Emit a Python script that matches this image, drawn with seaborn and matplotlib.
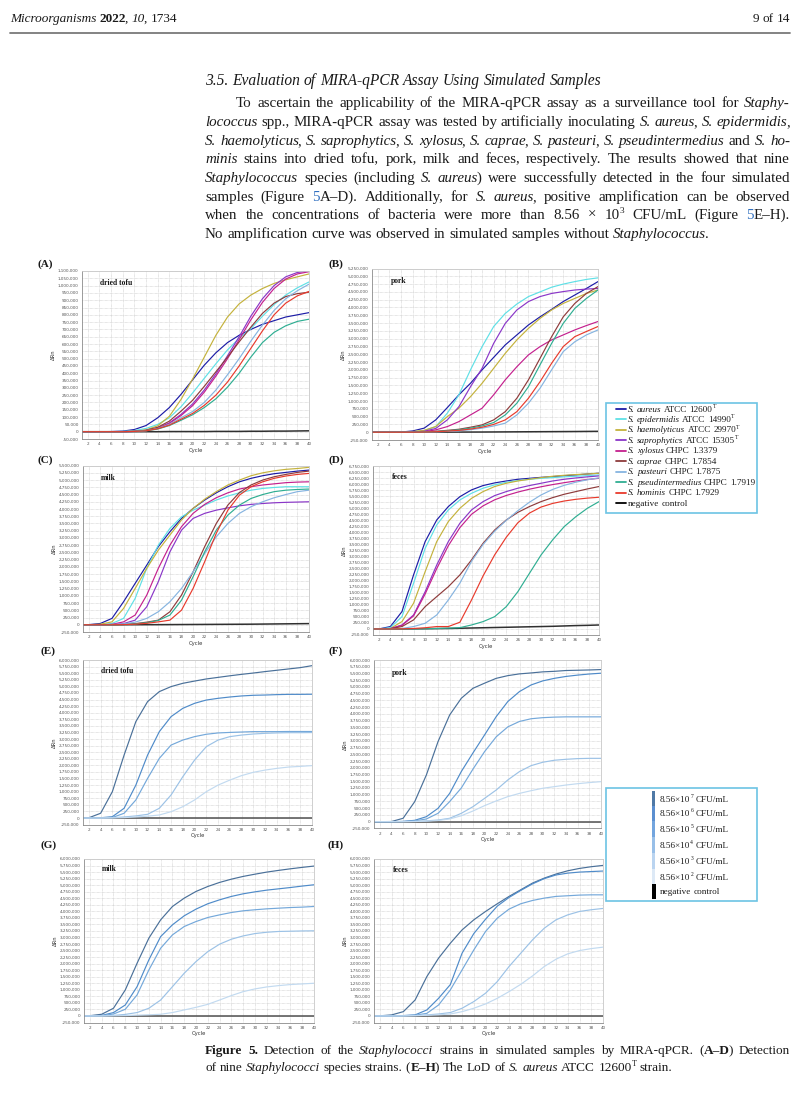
import numpy as np
import pandas as pd
import matplotlib
matplotlib.use("Agg")
import matplotlib.pyplot as plt
import seaborn as sns
from matplotlib.patches import Rectangle
from matplotlib.lines import Line2D
from matplotlib.transforms import IdentityTransform

# ---------------- data (RFU in thousands) ----------------
CYCLES = [1, 2, 4, 6, 8, 10, 12, 14, 16, 18, 20, 22, 24, 26, 28, 30, 32, 34, 36, 38, 40]
X_TICKS = list(range(2, 41, 2))

STRAINS = ["negative control", "S. aureus", "S. epidermidis", "S. haemolyticus", "S. saprophytics",
           "S. xylosus", "S. caprae", "S. pasteuri", "S. pseudintermedius", "S. hominis"]
STRAIN_COLORS = ["#303030", "#1c1ca6", "#5fe0e6", "#c4b23c", "#8a36c8",
                 "#c4208e", "#8e3b3b", "#86b4e0", "#2fae92", "#e83a2c"]
LEGEND1_TEXT = ["_S. aureus_ ATCC 12600^T^", "_S. epidermidis_ ATCC 14990^T^",
                "_S. haemolyticus_ ATCC 29970^T^", "_S. saprophytics_ ATCC 15305^T^",
                "_S. xylosus_ CHPC 1.3379", "_S. caprae_ CHPC 1.7854", "_S. pasteuri_ CHPC 1.7875",
                "_S. pseudintermedius_ CHPC 1.7919", "_S. hominis_ CHPC 1.7929", "negative control"]

A_NEG = [0, 0, 0, 0, 0, 0, 0, 0, 1, 1, 1, 1, 2, 2, 2, 3, 3, 4, 4, 5, 6]
A_AUR = [0, 0, 0, 1, 4, 15, 42, 95, 165, 255, 355, 455, 540, 610, 660, 700, 735, 760, 785, 800, 815]
A_EPI = [0, 0, 0, 0, 2, 8, 22, 50, 95, 170, 265, 365, 465, 560, 640, 705, 790, 870, 935, 985, 1025]
A_HAE = [0, 0, 0, 0, 0, 3, 12, 40, 105, 220, 360, 510, 660, 785, 875, 935, 980, 1015, 1040, 1060, 1080]
A_SAP = [0, 0, 0, 0, 0, 2, 8, 25, 60, 118, 190, 285, 395, 520, 650, 790, 910, 1000, 1060, 1090, 1100]
A_XYL = [0, 0, 0, 0, 0, 2, 8, 24, 56, 110, 178, 270, 380, 500, 630, 765, 885, 980, 1045, 1080, 1095]
A_CAP = [0, 0, 0, 0, 0, 3, 10, 30, 72, 140, 215, 310, 410, 510, 615, 715, 810, 880, 925, 945, 955]
A_PAS = [0, 0, 0, 0, 0, 2, 7, 22, 50, 95, 138, 200, 285, 390, 500, 620, 730, 830, 910, 965, 1010]
A_PSE = [0, 0, 0, 0, 0, 2, 6, 18, 42, 78, 116, 165, 225, 305, 400, 510, 610, 680, 725, 755, 770]
A_HOM = [0, 0, 0, 0, 0, 2, 6, 20, 45, 85, 125, 180, 250, 340, 450, 570, 690, 800, 880, 930, 960]

B_NEG = [0, 0, 0, 0, 0, 1, 2, 3, 4, 5, 6, 8, 10, 12, 14, 16, 18, 20, 22, 25, 28]
B_AUR = [0, 0, 0, 5, 40, 130, 395, 790, 1200, 1570, 2000, 2400, 2800, 3120, 3440, 3700, 3940, 4190, 4400, 4610, 4830]
B_EPI = [0, 0, 0, 2, 15, 50, 180, 610, 1200, 2000, 2745, 3390, 3810, 4110, 4350, 4500, 4650, 4750, 4830, 4900, 4950]
B_HAE = [0, 0, 0, 2, 20, 60, 180, 500, 770, 1140, 1570, 2050, 2530, 2960, 3330, 3650, 3920, 4130, 4290, 4450, 4560]
B_SAP = [0, 0, 0, 0, 5, 30, 120, 395, 820, 1460, 2050, 2850, 3490, 3920, 4190, 4350, 4450, 4510, 4560, 4590, 4610]
B_XYL = [0, 0, 0, 0, 2, 15, 75, 180, 340, 555, 770, 1200, 1680, 2100, 2480, 2745, 2960, 3120, 3280, 3420, 3550]
B_CAP = [0, 0, 0, 0, 0, 10, 30, 60, 95, 160, 235, 395, 660, 1090, 1680, 2370, 3065, 3700, 4130, 4450, 4670]
B_PAS = [0, 0, 0, 0, 0, 3, 10, 25, 45, 80, 130, 200, 290, 555, 930, 1410, 2000, 2585, 2900, 3120, 3280]
B_PSE = [0, 0, 0, 0, 0, 5, 20, 45, 80, 130, 200, 310, 555, 930, 1460, 2160, 2850, 3490, 3970, 4290, 4560]
B_HOM = [0, 0, 0, 0, 0, 5, 15, 35, 60, 100, 160, 250, 395, 660, 1090, 1620, 2210, 2745, 3065, 3230, 3390]

C_NEG = [0, 0, 0, 0, 1, 2, 3, 4, 6, 8, 10, 12, 14, 16, 18, 20, 24, 28, 32, 36, 40]
C_AUR = [0, 5, 45, 220, 795, 1430, 2060, 2700, 3215, 3675, 4020, 4310, 4560, 4770, 4940, 5060, 5150, 5220, 5265, 5310, 5345]
C_EPI = [0, 0, 5, 45, 220, 910, 1950, 2750, 3330, 3730, 3960, 4135, 4310, 4450, 4560, 4650, 4710, 4745, 4770, 4770, 4770]
C_HAE = [0, 0, 20, 100, 565, 1255, 1950, 2580, 3100, 3620, 4020, 4340, 4600, 4830, 5000, 5150, 5250, 5320, 5370, 5400, 5440]
C_SAP = [0, 0, 0, 5, 40, 160, 620, 1490, 2520, 3270, 3675, 3850, 3960, 4040, 4110, 4160, 4190, 4215, 4230, 4240, 4250]
C_XYL = [0, 0, 0, 15, 100, 335, 1025, 1950, 2750, 3390, 3850, 4160, 4390, 4560, 4690, 4770, 4830, 4870, 4910, 4930, 4940]
C_CAP = [0, 0, 0, 0, 10, 40, 90, 160, 450, 1025, 1830, 2700, 3500, 4135, 4570, 4830, 5000, 5115, 5195, 5265, 5310]
C_PAS = [0, 0, 0, 5, 30, 90, 220, 450, 795, 1255, 1830, 2465, 3040, 3500, 3850, 4080, 4250, 4390, 4500, 4600, 4650]
C_PSE = [0, 0, 0, 0, 5, 30, 70, 150, 335, 850, 1660, 2520, 3270, 3790, 4135, 4365, 4500, 4600, 4650, 4675, 4690]
C_HOM = [0, 0, 0, 0, 5, 20, 50, 100, 160, 505, 1255, 2180, 3160, 3960, 4480, 4770, 4940, 5060, 5140, 5195, 5230]

D_NEG = [0, 0, 0, 2, 5, 10, 15, 20, 30, 40, 50, 60, 70, 80, 90, 100, 110, 125, 140, 150, 165]
D_AUR = [0, 0, 100, 720, 2240, 3620, 4515, 5070, 5480, 5760, 5940, 6050, 6130, 6200, 6240, 6280, 6310, 6350, 6380, 6420, 6450]
D_EPI = [0, 0, 55, 510, 1890, 3340, 4310, 4930, 5345, 5620, 5830, 5970, 6075, 6145, 6200, 6240, 6270, 6300, 6325, 6350, 6380]
D_HAE = [0, 0, 20, 305, 1065, 2375, 3620, 4450, 5000, 5410, 5690, 5900, 6035, 6130, 6200, 6270, 6325, 6365, 6395, 6420, 6450]
D_SAP = [0, 0, 10, 165, 580, 1545, 2650, 3620, 4380, 4930, 5275, 5525, 5690, 5830, 5940, 6035, 6130, 6200, 6255, 6300, 6340]
D_XYL = [0, 0, 10, 150, 540, 1450, 2500, 3450, 4200, 4750, 5100, 5350, 5530, 5670, 5790, 5890, 5980, 6060, 6130, 6190, 6240]
D_CAP = [0, 0, 10, 100, 375, 925, 1340, 1750, 2240, 2860, 3550, 4100, 4515, 4830, 5070, 5275, 5440, 5580, 5690, 5800, 5900]
D_PAS = [0, 0, 0, 20, 100, 235, 580, 1200, 1900, 2800, 3500, 4050, 4500, 4900, 5250, 5550, 5780, 5950, 6080, 6180, 6260]
D_PSE = [0, 0, 0, 0, 5, 10, 20, 35, 55, 165, 305, 510, 925, 1545, 2305, 3065, 3690, 4240, 4650, 5000, 5275]
D_HOM = [0, 0, 0, 5, 20, 50, 100, 100, 280, 1200, 2200, 3070, 3800, 4400, 4800, 5050, 5200, 5300, 5370, 5420, 5455]

LOD_LEVELS = ["negative control", "8.56e7", "8.56e6", "8.56e5", "8.56e4", "8.56e3"]
LOD_COLORS = ["#505050", "#4a7099", "#4f8bc9", "#74a8da", "#9cc2e6", "#c2daf0"]
LEGEND2_TEXT = ["8.56×10^7^ CFU/mL", "8.56×10^6^ CFU/mL", "8.56×10^5^ CFU/mL",
                "8.56×10^4^ CFU/mL", "8.56×10^3^ CFU/mL", "8.56×10^2^ CFU/mL", "negative control"]
LEGEND2_COLORS = ["#4f79a6", "#5b8fd0", "#73a5de", "#98bfe8", "#bad4f0", "#dde9f6", "#000000"]

ZERO = [0] * 21
E_C7 = [0, 10, 180, 1000, 2390, 3660, 4420, 4800, 4990, 5115, 5200, 5280, 5340, 5400, 5455, 5505, 5560, 5610, 5660, 5710, 5785]
E_C6 = [0, 0, 10, 50, 370, 1250, 2390, 3280, 3850, 4165, 4355, 4480, 4545, 4595, 4635, 4660, 4670, 4685, 4695, 4695, 4700]
E_C5 = [0, 0, 5, 20, 180, 685, 1505, 2265, 2770, 2960, 3090, 3180, 3230, 3250, 3265, 3280, 3280, 3280, 3285, 3285, 3285]
E_C4 = [0, 0, 0, 10, 40, 80, 140, 370, 875, 1570, 2200, 2710, 2960, 3090, 3150, 3190, 3215, 3230, 3240, 3240, 3245]
E_C3 = [0, 0, 0, 5, 15, 40, 70, 115, 240, 430, 685, 1000, 1250, 1440, 1610, 1735, 1820, 1885, 1935, 1960, 1990]

F_C7 = [0, 0, 5, 125, 745, 1735, 2970, 3960, 4580, 4950, 5140, 5320, 5420, 5485, 5520, 5560, 5580, 5610, 5620, 5630, 5645]
F_C6 = [0, 0, 0, 10, 50, 185, 495, 1050, 1860, 2550, 3220, 3900, 4460, 4830, 5075, 5225, 5320, 5390, 5440, 5480, 5510]
F_C5 = [0, 0, 0, 5, 30, 100, 310, 745, 1250, 1950, 2600, 3150, 3520, 3720, 3820, 3860, 3880, 3890, 3890, 3890, 3890]
F_C4 = [0, 0, 0, 0, 10, 30, 60, 125, 310, 555, 865, 1175, 1550, 1860, 2080, 2205, 2280, 2315, 2340, 2350, 2350]
F_C3 = [0, 0, 0, 0, 5, 20, 45, 100, 220, 395, 595, 770, 930, 1050, 1150, 1240, 1300, 1360, 1410, 1450, 1485]

G_C7 = [0, 10, 65, 295, 995, 2015, 2975, 3675, 4185, 4505, 4760, 4950, 5105, 5230, 5335, 5420, 5500, 5565, 5625, 5680, 5730]
G_C6 = [0, 0, 20, 130, 420, 1120, 2145, 3035, 3485, 3830, 4085, 4290, 4440, 4570, 4670, 4745, 4810, 4860, 4910, 4965, 5015]
G_C5 = [0, 0, 10, 75, 255, 805, 1760, 2590, 3100, 3420, 3610, 3765, 3865, 3955, 4020, 4060, 4095, 4120, 4145, 4160, 4185]
G_C4 = [0, 0, 0, 20, 60, 130, 295, 610, 1120, 1635, 2080, 2460, 2745, 2935, 3060, 3150, 3200, 3230, 3240, 3250, 3255]
G_C3 = [0, 0, 0, 5, 15, 30, 45, 65, 130, 230, 330, 445, 610, 780, 930, 1035, 1110, 1160, 1200, 1225, 1250]

H_C7 = [0, 5, 40, 165, 610, 1505, 2210, 2780, 3290, 3675, 3995, 4290, 4570, 4825, 5080, 5270, 5425, 5550, 5640, 5705, 5755]
H_C6 = [0, 0, 5, 15, 40, 230, 675, 1200, 2400, 3150, 3700, 4200, 4530, 4800, 5050, 5250, 5390, 5460, 5500, 5520, 5540]
H_C5 = [0, 0, 0, 10, 30, 100, 420, 995, 1760, 2525, 3230, 3740, 4085, 4290, 4415, 4505, 4570, 4595, 4620, 4630, 4630]
H_C4 = [0, 0, 0, 5, 15, 40, 75, 130, 295, 550, 870, 1315, 1890, 2400, 2910, 3355, 3675, 3865, 3995, 4060, 4110]
H_C3 = [0, 0, 0, 0, 10, 25, 45, 75, 165, 295, 460, 675, 930, 1210, 1530, 1890, 2170, 2375, 2500, 2575, 2630]

# y-axis ranges (min, max, step) in RFU
A_YR = (-50000, 1100000, 50000)
B_YR = (-250000, 5250000, 250000)
C_YR = (-250000, 5500000, 250000)
D_YR = (-250000, 6750000, 250000)
EH_YR = (-250000, 6000000, 250000)

SAMPLES = ["dried tofu", "pork", "milk", "feces"]
LETTERS = ["(A)", "(B)", "(C)", "(D)", "(E)", "(F)", "(G)", "(H)"]

HEADER_LEFT = "_Microorganisms_ *2022*, _10_, 1734"
HEADER_RIGHT = "9 of 14"
HEADING = "3.5. Evaluation of MIRA-qPCR Assay Using Simulated Samples"
BODY = [
    "To ascertain the applicability of the MIRA-qPCR assay as a surveillance tool for _Staphy-_",
    "_lococcus_ spp., MIRA-qPCR assay was tested by artificially inoculating _S. aureus_, _S. epidermidis_,",
    "_S. haemolyticus_, _S. saprophytics_, _S. xylosus_, _S. caprae_, _S. pasteuri_, _S. pseudintermedius_ and _S. ho-_",
    "_minis_ stains into dried tofu, pork, milk and feces, respectively. The results showed that nine",
    "_Staphylococcus_ species (including _S. aureus_) were successfully detected in the four simulated",
    "samples (Figure #5#A–D). Additionally, for _S. aureus_, positive amplification can be observed",
    "when the concentrations of bacteria were more than 8.56 × 10^3^ CFU/mL (Figure #5#E–H).",
    "No amplification curve was observed in simulated samples without _Staphylococcus_.",
]
CAPTION = [
    "*Figure 5.* Detection of the _Staphylococci_ strains in simulated samples by MIRA-qPCR. (*A–D*) Detection",
    "of nine _Staphylococci_ species strains. (*E–H*) The LoD of _S. aureus_ ATCC 12600^T^ strain.",
]

# ---------------- figure ----------------
sns.set_style("white")
plt.rcParams["font.family"] = ["Liberation Serif", "DejaVu Serif"]
W, H, DPI = 800, 1097, 100
fig = plt.figure(figsize=(W / DPI, H / DPI), dpi=DPI)
fig.patch.set_facecolor("white")
TEXT = "#1a1a1a"
LINK = "#2f6fc0"
R = fig.canvas.get_renderer()
MARK = {"_": "i", "*": "b", "#": "c", "^": "s"}
_ADV = {}


def parse_words(s):
    st = {"i": False, "b": False, "c": False, "s": False}
    words = [[]]
    cur = ""
    for ch in s:
        if ch in MARK or ch == " ":
            if cur:
                words[-1].append((cur, dict(st)))
                cur = ""
            if ch == " ":
                if words[-1]:
                    words.append([])
            else:
                st[MARK[ch]] = not st[MARK[ch]]
        else:
            cur += ch
    if cur:
        words[-1].append((cur, dict(st)))
    return [w for w in words if w]


def text_width(s, size, style="normal", weight="normal"):
    t = fig.text(0, 0, s, fontsize=size, fontstyle=style, fontweight=weight,
                 transform=IdentityTransform())
    w = t.get_window_extent(R).width
    t.remove()
    return w


def advance(s, size, style="normal", weight="normal"):
    key = (s, size, style, weight)
    if key not in _ADV:
        _ADV[key] = (text_width("|" + s + "|", size, style, weight)
                     - text_width("||", size, style, weight))
    return _ADV[key]


def rich_line(x0, yb, s, size, width=None, color=TEXT, ha="left"):
    kern = 0.10 * size * DPI / 72.0
    built = []
    for w in parse_words(s):
        pcs = []
        for j, (txt, st) in enumerate(w):
            fs = size * 0.62 if st["s"] else size
            style = "italic" if st["i"] else "normal"
            weight = "bold" if st["b"] else "normal"
            t = fig.text(0, 0, txt, fontsize=fs, fontstyle=style, fontweight=weight,
                         color=LINK if st["c"] else color,
                         transform=IdentityTransform(), ha="left", va="baseline")
            adv = advance(txt, fs, style, weight)
            if j < len(w) - 1:
                nxt = w[j + 1][0]
                if st["i"] or st["b"] or nxt[0] in ",.);:":
                    adv -= kern
            pcs.append((t, adv, st["s"]))
        built.append(pcs)
    widths = [sum(p[1] for p in pcs) for pcs in built]
    sp = advance(" ", size)
    total = sum(widths) + sp * (len(built) - 1)
    gap = (width - sum(widths)) / (len(built) - 1) if (width and len(built) > 1) else sp
    x = x0 - total if ha == "right" else x0
    for pcs in built:
        for t, wd, sup in pcs:
            dy = size * 0.40 * DPI / 72 if sup else 0
            t.set_position((x, H - yb + dy))
            x += wd
        x += gap


# header
rich_line(10, 22, HEADER_LEFT, 9.5)
rich_line(790, 22, HEADER_RIGHT, 9.5, ha="right")
fig.add_artist(Line2D([10 / W, 790 / W], [1 - 33 / H, 1 - 33 / H], color="#7a7a7a", lw=1.3))

# section text
rich_line(205, 85, "_" + HEADING + "_", 11.2)
BODY_Y = [107, 126, 145, 163, 182, 201, 219, 238]
for i, (line, yb) in enumerate(zip(BODY, BODY_Y)):
    x0 = 236 if i == 0 else 205
    justify = 790 - x0 if i < len(BODY) - 1 else None
    rich_line(x0, yb, line, 10.8, width=justify)

# caption
rich_line(205, 1054, CAPTION[0], 9.5, width=585)
rich_line(205, 1071, CAPTION[1], 9.5)


def panel(box, names, series, colors, yr, sample, letter, letter_xy, sample_xy):
    l, t, r, b = box
    ax = fig.add_axes([l / W, 1 - b / H, (r - l) / W, (b - t) / H])
    rows = []
    for name, vals in zip(names, series):
        for c, v in zip(CYCLES, vals):
            rows.append((name, c, v * 1000.0))
    df = pd.DataFrame(rows, columns=["strain", "cycle", "rfu"])
    sns.lineplot(data=df, x="cycle", y="rfu", hue="strain", hue_order=names,
                 palette=dict(zip(names, colors)), legend=False, ax=ax,
                 linewidth=0.85, estimator=None, sort=False)
    for ln in ax.lines[:1]:
        ln.set_linewidth(1.1)
    ymin, ymax, step = yr
    yt = np.arange(ymin, ymax + 1, step)
    ax.set_xlim(1, 40)
    ax.set_ylim(ymin, ymax)
    ax.set_xticks(X_TICKS)
    ax.set_xticklabels([str(v) for v in X_TICKS], fontsize=3.0, family="DejaVu Sans", color="#444")
    ax.set_yticks(yt)
    ax.set_yticklabels([f"{int(v):,}" for v in yt], fontsize=3.0, family="DejaVu Sans", color="#444")
    ax.tick_params(length=1.5, width=0.4, pad=1.0, colors="#555")
    ax.grid(True, color="#c4c4c4", linestyle=(0, (1, 1)), linewidth=0.45)
    for sname, sp in ax.spines.items():
        sp.set_linewidth(0.6)
        sp.set_color("#8a8a8a" if sname in ("left", "bottom") else "#c8c8c8")
    ax.set_xlabel("Cycle", fontsize=3.8, family="DejaVu Sans", labelpad=0.8, color="#333")
    ax.set_ylabel("ΔRn", fontsize=3.8, family="DejaVu Sans", labelpad=1.5, color="#333")
    fig.text(letter_xy[0], H - letter_xy[1], letter, fontsize=8, fontweight="bold",
             transform=IdentityTransform(), ha="center", va="center", color=TEXT)
    fig.text(sample_xy[0], H - sample_xy[1], sample, fontsize=5.5, fontweight="bold",
             transform=IdentityTransform(), ha="left", va="center", color=TEXT)
    return ax


panel((82, 271, 309, 439), STRAINS,
      [A_NEG, A_AUR, A_EPI, A_HAE, A_SAP, A_XYL, A_CAP, A_PAS, A_PSE, A_HOM],
      STRAIN_COLORS, A_YR, SAMPLES[0], LETTERS[0], (45, 264), (100, 283))
panel((372, 268.5, 598, 440), STRAINS,
      [B_NEG, B_AUR, B_EPI, B_HAE, B_SAP, B_XYL, B_CAP, B_PAS, B_PSE, B_HOM],
      STRAIN_COLORS, B_YR, SAMPLES[1], LETTERS[1], (336, 264), (391, 281))
panel((83, 465.6, 309, 632), STRAINS,
      [C_NEG, C_AUR, C_EPI, C_HAE, C_SAP, C_XYL, C_CAP, C_PAS, C_PSE, C_HOM],
      STRAIN_COLORS, C_YR, SAMPLES[2], LETTERS[2], (45, 460), (101, 478))
panel((373, 466, 599, 635), STRAINS,
      [D_NEG, D_AUR, D_EPI, D_HAE, D_SAP, D_XYL, D_CAP, D_PAS, D_PSE, D_HOM],
      STRAIN_COLORS, D_YR, SAMPLES[3], LETTERS[3], (336, 460), (392, 477))

panel((83, 660, 312, 824.6), LOD_LEVELS, [ZERO, E_C7, E_C6, E_C5, E_C4, E_C3],
      LOD_COLORS, EH_YR, SAMPLES[0], LETTERS[4], (48, 651), (101, 671))
panel((374, 660, 601, 828.4), LOD_LEVELS, [ZERO, F_C7, F_C6, F_C5, F_C4, F_C3],
      LOD_COLORS, EH_YR, SAMPLES[1], LETTERS[5], (336, 651), (392, 673))
panel((84, 859, 314, 1022.5), LOD_LEVELS, [ZERO, G_C7, G_C6, G_C5, G_C4, G_C3],
      LOD_COLORS, EH_YR, SAMPLES[2], LETTERS[6], (49, 845), (102, 869))
panel((374, 859, 603, 1022.5), LOD_LEVELS, [ZERO, H_C7, H_C6, H_C5, H_C4, H_C3],
      LOD_COLORS, EH_YR, SAMPLES[3], LETTERS[7], (336, 845), (393, 870))


def fig_rect(x0, y0, x1, y1, **kw):
    fig.add_artist(Rectangle((x0 / W, 1 - y1 / H), (x1 - x0) / W, (y1 - y0) / H,
                             transform=fig.transFigure, **kw))


# legend 1 (species)
fig_rect(606, 403, 757, 513, facecolor="white", edgecolor="#6cc4e4", lw=1.2)
leg_colors = STRAIN_COLORS[1:] + STRAIN_COLORS[:1]
for i, (txt, col) in enumerate(zip(LEGEND1_TEXT, leg_colors)):
    yc = 409 + i * 10.45
    fig.add_artist(Line2D([616 / W, 626 / W], [1 - yc / H, 1 - yc / H],
                          color="#000000" if i == 9 else col, lw=1.3))
    rich_line(628, yc + 2.5, txt, 6.6)

# legend 2 (LoD concentrations)
fig_rect(606, 788, 757, 901, facecolor="white", edgecolor="#6cc4e4", lw=1.2)
L2_Y = [799, 813, 829, 845, 861, 877, 891]
bounds = [791, 806, 821, 837, 853, 869, 884, 899]
for i, (txt, col) in enumerate(zip(LEGEND2_TEXT, LEGEND2_COLORS)):
    wbar = 3.5 if i == 6 else 3
    fig_rect(652, bounds[i], 652 + wbar, bounds[i + 1], facecolor=col, edgecolor="none")
    rich_line(660, L2_Y[i] + 2.5, txt, 6.6)

fig.savefig("out.png", dpi=DPI, facecolor="white")
